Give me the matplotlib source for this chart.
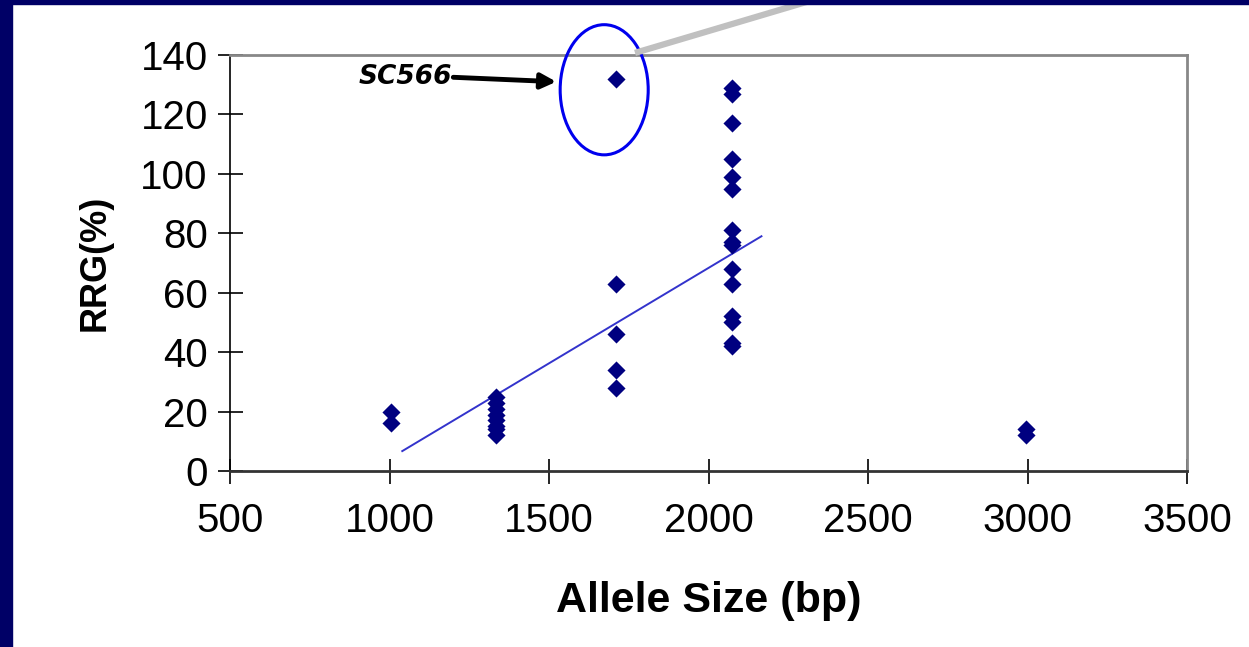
import numpy as np
import matplotlib.pyplot as plt
from matplotlib.patches import Ellipse
from matplotlib.lines import Line2D

# allele size (bp) and RRG (%)
size_1000 = [1005, 1005]
rrg_1000 = [20, 16]
size_1340 = [1335] * 8
rrg_1340 = [25, 23, 21, 19, 17, 15, 14, 12]
size_1720 = [1710] * 5
rrg_1720 = [132, 63, 46, 34, 28]
size_2080 = [2073] * 15
rrg_2080 = [129, 127, 117, 105, 99, 95, 81, 77, 76, 68, 63, 52, 50, 43, 42]
size_3000 = [2995, 2995]
rrg_3000 = [14, 12]

# trend line end points
trend_x = [1040, 2166]
trend_y = [6.7, 79]

x_ticks = [500, 1000, 1500, 2000, 2500, 3000, 3500]
y_ticks = [0, 20, 40, 60, 80, 100, 120, 140]

sizes = size_1000 + size_1340 + size_1720 + size_2080 + size_3000
rrg = rrg_1000 + rrg_1340 + rrg_1720 + rrg_2080 + rrg_3000

plt.rcParams['font.family'] = ['Liberation Sans', 'DejaVu Sans']

fig = plt.figure(figsize=(12.49, 6.47), dpi=100)
ax = fig.add_axes([230 / 1249, 1 - 471 / 647, 957 / 1249, 416 / 647])

ax.plot(trend_x, trend_y, color='#3333cc', lw=1.4, zorder=2)
ax.scatter(sizes, rrg, marker='D', s=85, color='#000080', zorder=3, linewidths=0)

ax.set_xlim(500, 3500)
ax.set_ylim(0, 140)
ax.set_xticks(x_ticks)
ax.set_yticks(y_ticks)
ax.tick_params(direction='inout', length=18, width=1.2, labelsize=29)
ax.tick_params(axis='y', pad=7)
ax.tick_params(axis='x', pad=13)

for side in ['top', 'right']:
    ax.spines[side].set_color('#888888')
    ax.spines[side].set_linewidth(2)
ax.spines['left'].set_color('black')
ax.spines['left'].set_linewidth(1.2)
ax.spines['bottom'].set_color('#333333')
ax.spines['bottom'].set_linewidth(2)

ax.set_xlabel('Allele Size (bp)', fontsize=31, fontweight='bold', labelpad=30)
ax.set_ylabel('RRG(%)', fontsize=26, fontweight='bold', labelpad=20)

# highlight around SC566
ax.add_patch(Ellipse((1673, 128.3), 276, 43.8, fill=False, edgecolor='#0000ee',
                     lw=2.2, clip_on=False, zorder=4))
ax.annotate('', xy=(1523, 131), xytext=(1200, 132.5),
            arrowprops=dict(arrowstyle='-|>,head_length=0.9,head_width=0.45',
                            color='black', lw=3.5, shrinkA=0, shrinkB=0))
ax.text(1195, 132.5, 'SC566', fontsize=19, fontweight='bold', style='italic',
        family='DejaVu Sans', ha='right', va='center')

# grey callout line running off the top of the slide
fig.add_artist(Line2D([638 / 1249, 840 / 1249], [1 - 52 / 647, 1 + 8 / 647],
                      color='#c0c0c0', lw=4.5, transform=fig.transFigure))

# navy slide border
fig.add_artist(plt.Rectangle((0, 0), 12 / 1249, 1, color='#000066',
                             transform=fig.transFigure, zorder=10))
fig.add_artist(plt.Rectangle((0, 1 - 4 / 647), 1, 4 / 647, color='#000066',
                             transform=fig.transFigure, zorder=10))

fig.savefig('out.png', dpi=100)
